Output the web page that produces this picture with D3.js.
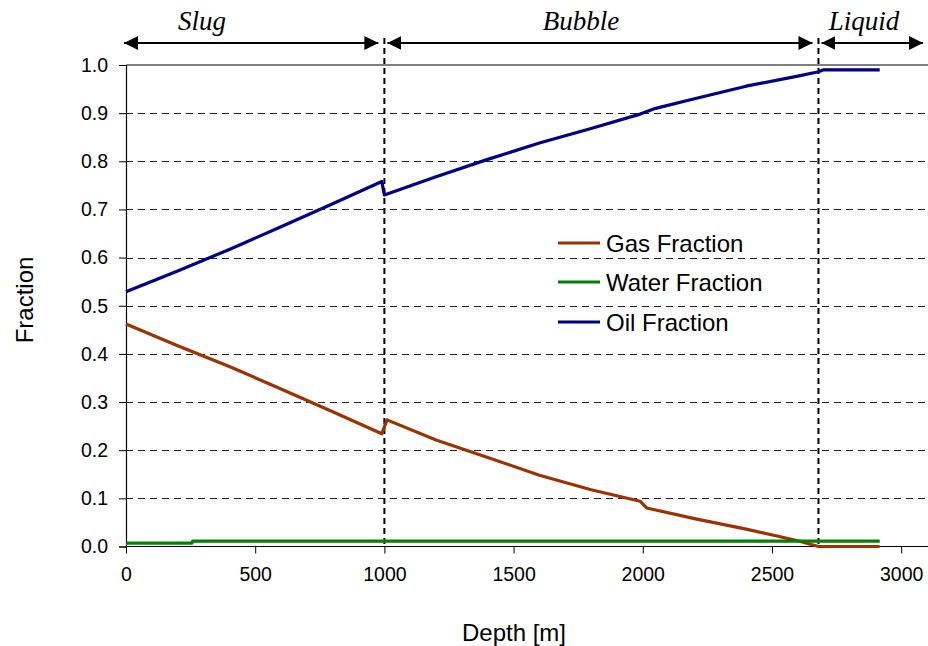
<!DOCTYPE html>
<html>
<head>
<meta charset="utf-8">
<script src="https://cdn.jsdelivr.net/npm/d3@7"></script>
<style>
  body { margin: 0; background: #fff; }
  svg { display: block; font-family: Arial, "Liberation Sans", sans-serif; }
</style>
</head>
<body>
<svg id="chart" width="928" height="646"></svg>
<script>
// depth [m] / fraction pairs
const gasDepth  = [0, 200, 400, 600, 800, 990, 1010, 1200, 1400, 1600, 1800, 1990, 2015, 2200, 2400, 2600, 2680, 2917];
const gasValues = [0.462, 0.417, 0.374, 0.327, 0.280, 0.234, 0.263, 0.221, 0.185, 0.148, 0.118, 0.094, 0.080, 0.058, 0.036, 0.012, 0.0, 0.0];

const waterDepth  = [0, 255, 258, 2917];
const waterValues = [0.007, 0.007, 0.011, 0.011];

const oilDepth  = [0, 200, 400, 600, 800, 990, 1000, 1200, 1400, 1600, 1800, 1990, 2050, 2200, 2400, 2600, 2680, 2700, 2917];
const oilValues = [0.529, 0.572, 0.617, 0.664, 0.712, 0.758, 0.730, 0.768, 0.804, 0.838, 0.868, 0.898, 0.910, 0.930, 0.956, 0.977, 0.986, 0.990, 0.990];

const seriesNames  = ["Gas Fraction", "Water Fraction", "Oil Fraction"];
const seriesColors = ["#993300", "#008000", "#000080"];

const xTicks = [0, 500, 1000, 1500, 2000, 2500, 3000];
const yTicks = [0, 0.1, 0.2, 0.3, 0.4, 0.5, 0.6, 0.7, 0.8, 0.9, 1.0];

// flow regime boundaries
const regimeBounds = [1000, 2680];
const regimeNames  = ["Slug", "Bubble", "Liquid"];

const svg = d3.select("#chart");

const x = d3.scaleLinear().domain([0, 3100]).range([126, 927]);
const y = d3.scaleLinear().domain([0, 1]).range([546.5, 65]);

// horizontal grid
svg.append("g")
    .selectAll("line")
    .data(yTicks.filter(t => t > 0 && t < 1))
    .enter()
    .append("line")
    .attr("x1", x(0))
    .attr("x2", 928)
    .attr("y1", d => Math.round(y(d)) + 0.5)
    .attr("y2", d => Math.round(y(d)) + 0.5)
    .attr("stroke", "#222")
    .attr("stroke-width", 1)
    .attr("stroke-dasharray", "7,5");

// top border
svg.append("line")
    .attr("x1", x(0)).attr("x2", 928)
    .attr("y1", y(1)).attr("y2", y(1))
    .attr("stroke", "#000").attr("stroke-width", 1.2);

// axes
const xAxis = svg.append("g")
    .attr("transform", `translate(0,${y(0)})`)
    .call(d3.axisBottom(x).tickValues(xTicks).tickSize(7).tickPadding(14).tickFormat(d3.format("d")));
xAxis.select(".domain").attr("d", `M${x(0)},0H928`).attr("stroke-width", 1.2);

const yAxis = svg.append("g")
    .attr("transform", `translate(${x(0)},0)`)
    .call(d3.axisLeft(y).tickValues(yTicks).tickSize(7).tickPadding(11).tickFormat(d3.format(".1f")));
yAxis.select(".domain").attr("stroke-width", 1.2);

svg.selectAll(".tick text")
    .attr("font-size", 19.5)
    .attr("font-family", "Arial, 'Liberation Sans', sans-serif")
    .attr("fill", "#000");

// regime boundary lines
svg.append("g")
    .selectAll("line")
    .data(regimeBounds)
    .enter()
    .append("line")
    .attr("x1", d => x(d))
    .attr("x2", d => x(d))
    .attr("y1", 38)
    .attr("y2", y(0))
    .attr("stroke", "#000")
    .attr("stroke-width", 2)
    .attr("stroke-dasharray", "6,4");

// series lines
const seriesData = [
    gasDepth.map((d, i) => [d, gasValues[i]]),
    waterDepth.map((d, i) => [d, waterValues[i]]),
    oilDepth.map((d, i) => [d, oilValues[i]])
];

const line = d3.line()
    .x(d => x(d[0]))
    .y(d => y(d[1]));

svg.append("g")
    .selectAll("path")
    .data(seriesData)
    .enter()
    .append("path")
    .attr("d", line)
    .attr("fill", "none")
    .attr("stroke", (d, i) => seriesColors[i])
    .attr("stroke-width", 3.2)
    .attr("stroke-linejoin", "round");

// regime arrows
const defs = svg.append("defs");
defs.append("marker")
    .attr("id", "arrow")
    .attr("viewBox", "0 0 10 10")
    .attr("refX", 10)
    .attr("refY", 5)
    .attr("markerWidth", 14)
    .attr("markerHeight", 14)
    .attr("markerUnits", "userSpaceOnUse")
    .attr("orient", "auto-start-reverse")
    .append("path")
    .attr("d", "M0,0L10,5L0,10Z")
    .attr("fill", "#000");

const edges = [0].concat(regimeBounds).concat([3100]);
const arrowY = 43;
const regimes = regimeNames.map((name, i) => ({
    name: name,
    x1: x(edges[i]) + (i === 0 ? -2 : 3),
    x2: x(edges[i + 1]) - (i === regimeNames.length - 1 ? 4 : 6)
}));

svg.append("g")
    .selectAll("line")
    .data(regimes)
    .enter()
    .append("line")
    .attr("x1", d => d.x1)
    .attr("x2", d => d.x2)
    .attr("y1", arrowY)
    .attr("y2", arrowY)
    .attr("stroke", "#000")
    .attr("stroke-width", 2)
    .attr("marker-start", "url(#arrow)")
    .attr("marker-end", "url(#arrow)");

const regimeLabelX = [202, 581, 864];
svg.append("g")
    .selectAll("text")
    .data(regimes)
    .enter()
    .append("text")
    .attr("x", (d, i) => regimeLabelX[i])
    .attr("y", 30)
    .attr("text-anchor", "middle")
    .attr("font-family", "'Liberation Serif', 'Times New Roman', serif")
    .attr("font-style", "italic")
    .attr("font-size", 27)
    .text(d => d.name);

// legend
const legend = svg.append("g");
const legendY = [243, 282, 322];
seriesNames.forEach((name, i) => {
    legend.append("line")
        .attr("x1", 558).attr("x2", 600)
        .attr("y1", legendY[i]).attr("y2", legendY[i])
        .attr("stroke", seriesColors[i])
        .attr("stroke-width", 3);
    legend.append("text")
        .attr("x", 606)
        .attr("y", legendY[i] + 9)
        .attr("font-size", 24)
        .attr("fill", "#000")
        .text(name);
});

// axis titles
svg.append("text")
    .attr("x", 514)
    .attr("y", 641)
    .attr("text-anchor", "middle")
    .attr("font-size", 24)
    .text("Depth [m]");

svg.append("text")
    .attr("transform", "translate(33,300) rotate(-90)")
    .attr("text-anchor", "middle")
    .attr("font-size", 24)
    .text("Fraction");
</script>
</body>
</html>
